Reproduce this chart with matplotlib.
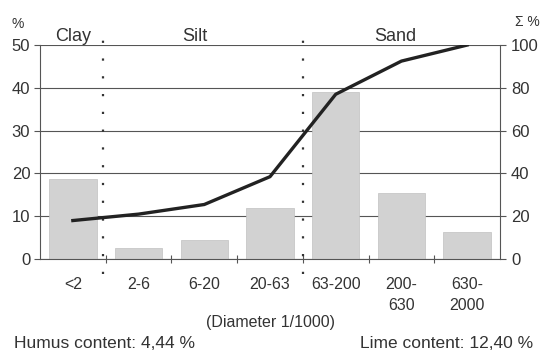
import matplotlib.pyplot as plt

classes = ["<2", "2-6", "6-20", "20-63", "63-200", "200-\n630", "630-\n2000"]
share = [18.7, 2.5, 4.5, 11.9, 39.0, 15.5, 6.4]
cumulative = [18.0, 21.0, 25.5, 38.5, 77.0, 92.5, 100.0]

plt.rcParams["font.family"] = ["Liberation Sans", "DejaVu Sans"]
plt.rcParams["font.size"] = 12
txt = "#333333"

fig = plt.figure(figsize=(5.45, 3.52), dpi=100)
ax = fig.add_axes([0.0734, 0.264, 0.844, 0.608])
x = range(len(classes))

ax.bar(x, share, width=0.72, color="#d2d2d2", edgecolor="#c0c0c0", linewidth=0.5, zorder=2)
ax.set_ylim(0, 50)
ax.set_xlim(-0.5, len(classes) - 0.5)
ax.set_yticks([0, 10, 20, 30, 40, 50])
ax.grid(axis="y", color="#555555", linewidth=0.8, zorder=1)
ax.set_axisbelow(True)
ax.set_xticks([i + 0.5 for i in range(len(classes) - 1)])
ax.set_xticklabels([])
ax.tick_params(axis="x", direction="inout", length=6, color="#555555")
ax.tick_params(axis="y", direction="out", length=4, color="#555555", labelcolor=txt, pad=3)
for i, lab in enumerate(classes):
    ax.text(i, -4.3, lab, ha="center", va="top", color=txt, fontsize=11.5, linespacing=1.5)
for s in ["left", "right", "bottom"]:
    ax.spines[s].set_color("#555555")
ax.spines["top"].set_visible(False)

ax2 = ax.twinx()
ax2.plot(x, cumulative, color="#222222", linewidth=2.4, zorder=4)
ax2.set_ylim(0, 100)
ax2.set_yticks([0, 20, 40, 60, 80, 100])
ax2.tick_params(axis="y", direction="out", length=4, color="#555555", labelcolor=txt, pad=4)
for s in ax2.spines.values():
    s.set_visible(False)

# class boundaries
for bx in [0.46, 3.5]:
    ax.plot([bx, bx], [-3.6, 51.3], linestyle=(0, (1, 7)), color="#333333",
            linewidth=1.6, clip_on=False, zorder=3)

ax.text(0.0, 50.9, "Clay", ha="center", va="baseline", color=txt, fontsize=13)
ax.text(1.85, 50.9, "Silt", ha="center", va="baseline", color=txt, fontsize=13)
ax.text(4.9, 50.9, "Sand", ha="center", va="baseline", color=txt, fontsize=13)

fig.text(0.022, 0.92, "%", color=txt, fontsize=10)
fig.text(0.99, 0.925, "Σ %", color=txt, fontsize=10, ha="right")
fig.text(0.497, 0.07, "(Diameter 1/1000)", ha="center", color=txt, fontsize=11.5)
fig.text(0.026, 0.01, "Humus content: 4,44 %", color=txt, fontsize=12.5)
fig.text(0.978, 0.01, "Lime content: 12,40 %", ha="right", color=txt, fontsize=12.5)

fig.savefig("out.png", dpi=100)
